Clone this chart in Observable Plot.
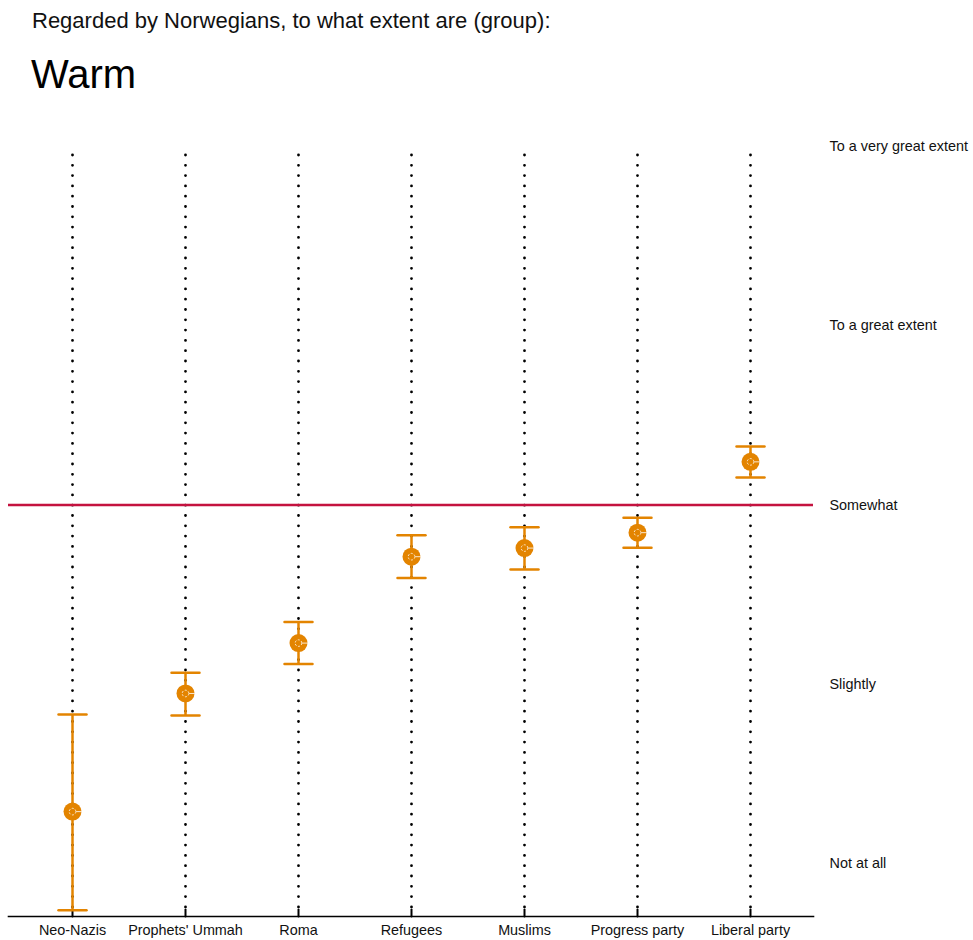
<!DOCTYPE html>
<html>
<head>
<meta charset="utf-8">
<script src="https://cdn.jsdelivr.net/npm/d3@7"></script>
<script src="https://cdn.jsdelivr.net/npm/@observablehq/plot@0.6"></script>
<style>
  html, body { margin: 0; padding: 0; background: #fff; overflow: hidden; }
  body { font-family: "Liberation Sans", Arial, Helvetica, sans-serif; }
  #wrap { position: relative; width: 973px; height: 940px; }
  #t1 { position: absolute; left: 32px; top: 7px; font-size: 22px; line-height: 28px; color: #111; white-space: nowrap; }
  #t2 { position: absolute; left: 31px; top: 49px; font-size: 40px; line-height: 50px; color: #000; white-space: nowrap; }
  #chart { position: absolute; left: 0; top: 110px; }
</style>
</head>
<body>
<div id="wrap">
  <div id="t1">Regarded by Norwegians, to what extent are (group):</div>
  <div id="t2">Warm</div>
  <div id="chart"></div>
</div>
<script>
const categories = ["Neo-Nazis", "Prophets' Ummah", "Roma", "Refugees", "Muslims", "Progress party", "Liberal party"];
const means = [1.290, 1.949, 2.230, 2.712, 2.760, 2.846, 3.241];
const lows  = [0.740, 1.826, 2.113, 2.593, 2.640, 2.762, 3.154];
const highs = [1.832, 2.064, 2.348, 2.831, 2.876, 2.929, 3.327];
const scaleValues = [1, 2, 3, 4, 5];
const scaleLabels = ["Not at all", "Slightly", "Somewhat", "To a great extent", "To a very great extent"];
const referenceValue = [3];

const data = categories.map((c, i) => ({group: c, mean: means[i], low: lows[i], high: highs[i]}));
const orange = "#e38400";

const lineShape = { draw(context, l) { context.moveTo(0, 0); context.lineTo(0, -l); } };

const chart = Plot.plot({
  width: 973,
  height: 828,
  marginLeft: 8,
  marginRight: 160,
  marginTop: 45,
  marginBottom: 22,
  style: { fontFamily: "Liberation Sans, Arial, Helvetica, sans-serif", fontSize: "14.4px", color: "#111", overflow: "visible" },
  x: { type: "point", domain: categories, range: [70, 751], padding: 0 },
  y: { domain: [0.705, 5], range: [806, 36] },
  marks: [
    Plot.ruleX(categories, { x: d => d, stroke: "#000", strokeWidth: 2.8, strokeDasharray: "0,10.3", strokeLinecap: "round" }),
    Plot.ruleY(referenceValue, { y: d => d, stroke: "#c4123f", strokeWidth: 2.5 }),
    Plot.frame({ anchor: "bottom", stroke: "#000", strokeWidth: 1.6 }),
    Plot.vector(categories, { x: d => d, y: 0.705, length: 7, rotate: 0, anchor: "start", shape: lineShape, stroke: "#000", strokeWidth: 2 }),
    Plot.ruleX(data, { x: "group", y1: "low", y2: "high", stroke: orange, strokeWidth: 2.5 }),
    Plot.vector(data, { x: "group", y: "low", length: 28, rotate: 90, anchor: "middle", shape: lineShape, stroke: orange, strokeWidth: 2.5 }),
    Plot.vector(data, { x: "group", y: "high", length: 28, rotate: 90, anchor: "middle", shape: lineShape, stroke: orange, strokeWidth: 2.5 }),
    Plot.dot(data, { x: "group", y: "mean", r: 9, fill: orange, stroke: "none" }),
    Plot.dot(data, { x: "group", y: "mean", r: 3.3, fill: "none", stroke: "#fff", strokeWidth: 0.8, strokeDasharray: "2,1.6" }),
    Plot.vector(data, { x: "group", y: "mean", length: 5, rotate: 90, anchor: "start", dx: 4, shape: lineShape, stroke: "#fff", strokeWidth: 0.8 }),
    Plot.axisY(scaleValues, { anchor: "right", tickSize: 0, tickPadding: 16, tickFormat: (d) => scaleLabels[scaleValues.indexOf(d)], label: null, fontSize: 14.4, fill: "#111" }),
    Plot.axisX({ anchor: "bottom", tickSize: 0, tickPadding: 8, label: null, fontSize: 14.4, fill: "#111" })
  ]
});
document.getElementById("chart").appendChild(chart);
</script>
</body>
</html>
